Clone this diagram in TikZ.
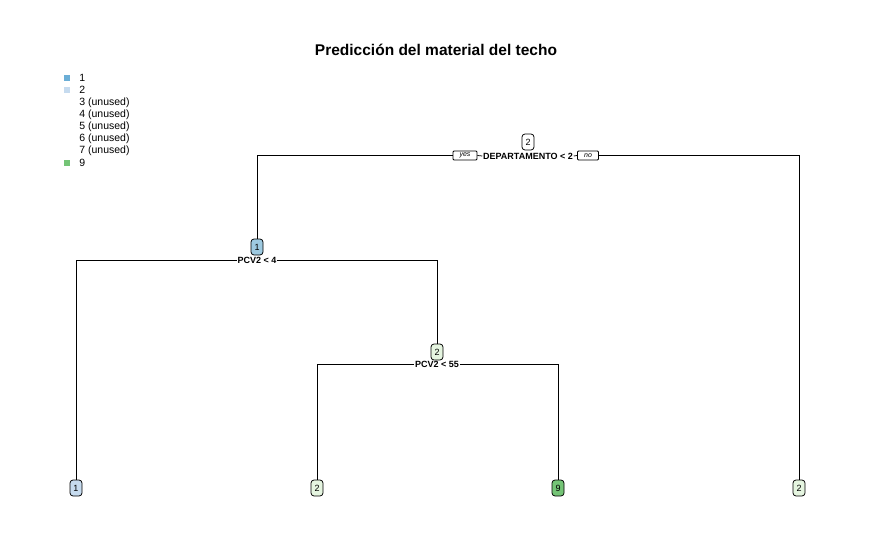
\documentclass[tikz,border=0pt]{standalone}
\usepackage{fontspec}
\setmainfont{Liberation Sans}
\usetikzlibrary{calc}
\definecolor{bluemid}{HTML}{6BAED6}
\definecolor{bluelight}{HTML}{C6DBEF}
\definecolor{bluenode}{HTML}{9ECAE1}
\definecolor{greenpale}{HTML}{E5F5E0}
\definecolor{greenmid}{HTML}{74C476}
\tikzset{
  tnode/.style={draw, rounded corners=3pt, minimum width=12pt, minimum height=16pt, inner sep=0pt, font=\fontsize{9}{10}\selectfont},
  split/.style={inner sep=0.5pt, fill=white, font=\fontsize{9}{10}\selectfont\bfseries},
  yesno/.style={draw, fill=white, rounded corners=1pt, minimum width=24pt, minimum height=9pt, inner sep=0pt, font=\fontsize{7}{8}\selectfont\itshape},
  legbox/.style={minimum size=6pt, inner sep=0pt},
  legtext/.style={anchor=west, inner sep=0pt, font=\fontsize{10.5}{12}\selectfont}
}
\begin{document}
\begin{tikzpicture}[x=1pt, y=-1pt, line width=0.75pt]
\useasboundingbox (0,0) rectangle (875,540);
\node[font=\fontsize{15.5}{18}\selectfont\bfseries] (title) at (436,50) {Predicción del material del techo};
% legend
\node[legbox, fill=bluemid] (lb1) at (67,78) {};
\node[legbox, fill=bluelight] (lb2) at (67,90) {};
\node[legbox, fill=greenmid] (lb9) at (67,163) {};
\node[legtext] (lt1) at (79,78) {1};
\node[legtext] (lt2) at (79,90) {2};
\node[legtext] (lt3) at (79,102.5) {3 (unused)};
\node[legtext] (lt4) at (79,114.5) {4 (unused)};
\node[legtext] (lt5) at (79,126.5) {5 (unused)};
\node[legtext] (lt6) at (79,138.5) {6 (unused)};
\node[legtext] (lt7) at (79,150.5) {7 (unused)};
\node[legtext] (lt9) at (79,163) {9};
% tree nodes
\node[tnode, fill=white] (root) at (528,142) {2};
\node[split] (rsplit) at (528,156) {DEPARTAMENTO < 2};
\node[yesno] (yes) at (465,155.5) {yes};
\node[yesno, minimum width=21pt] (no) at (588,155.5) {no};
\node[tnode, fill=bluenode] (n1) at (257,247) {1};
\node[split] (s1) at (257,260) {PCV2 < 4};
\node[tnode, fill=greenpale] (n2) at (437,352) {2};
\node[split] (s2) at (437,364.5) {PCV2 < 55};
\node[tnode, fill=bluelight] (leafa) at (76,488) {1};
\node[tnode, fill=greenpale] (leafb) at (317,488) {2};
\node[tnode, fill=greenmid] (leafc) at (558,488) {9};
\node[tnode, fill=greenpale] (leafd) at (799,488) {2};
% branches
\draw (rsplit.west) -- (yes.east);
\draw (yes.west) -| (n1.north);
\draw (rsplit.east) -- (no.west);
\draw (no.east) -| (leafd.north);
\draw (s1.west) -| (leafa.north);
\draw (s1.east) -| (n2.north);
\draw (s2.west) -| (leafb.north);
\draw (s2.east) -| (leafc.north);
\end{tikzpicture}
\end{document}
